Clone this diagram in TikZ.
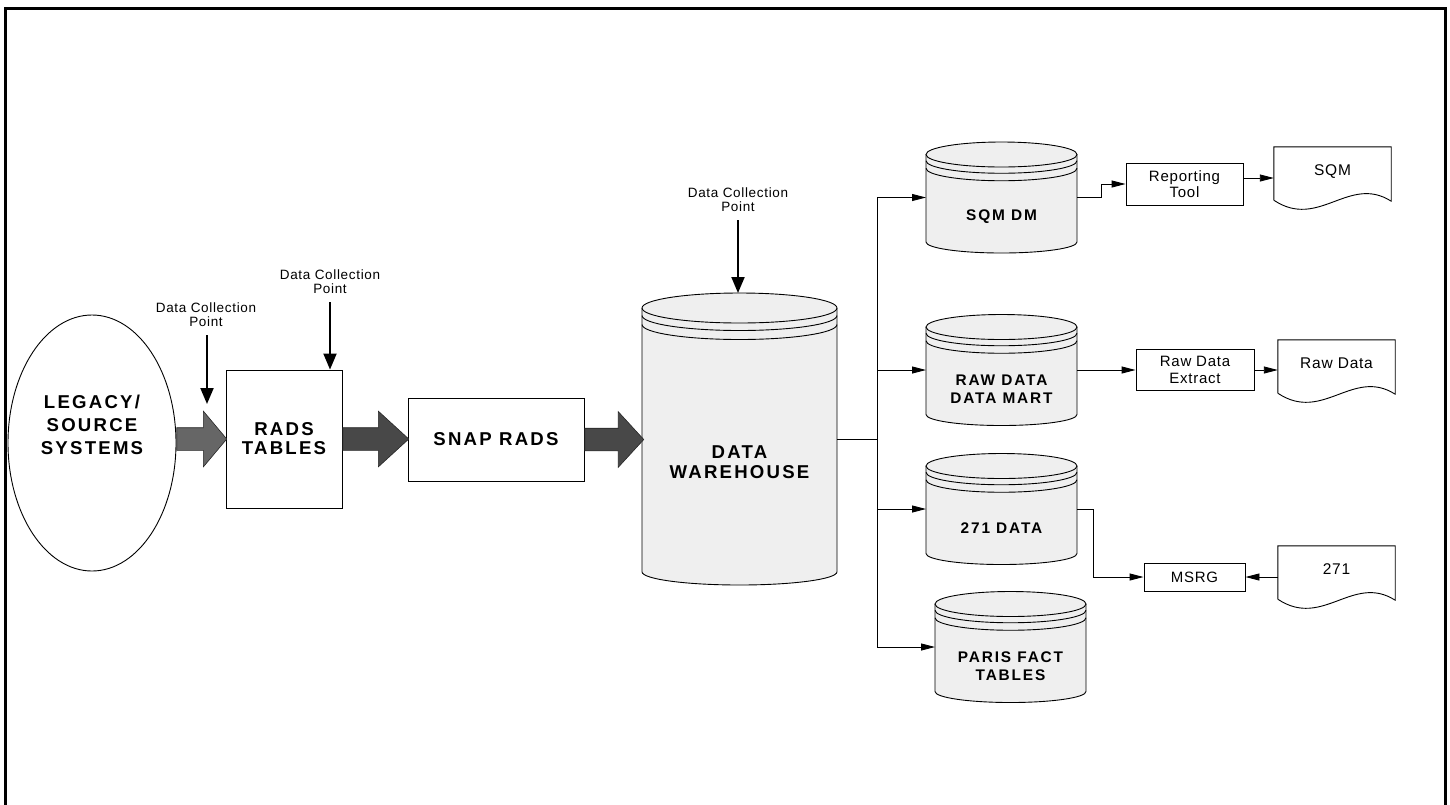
\documentclass[tikz,border=0pt]{standalone}
\usepackage{fontspec}
\setmainfont{Liberation Sans}
\newfontfamily\widefont[LetterSpace=12]{Liberation Sans}
\newfontfamily\smallfont[LetterSpace=5]{Liberation Sans}
\usepackage{tikz}
\usetikzlibrary{calc,arrows.meta,positioning,shapes.geometric,shapes.arrows}
\definecolor{dbgray}{RGB}{239,239,239}
\definecolor{flowlight}{RGB}{102,102,102}
\definecolor{flowdark}{RGB}{72,72,72}
\tikzset{
  box/.style={draw,line width=0.9pt,inner sep=0pt,align=center},
  bigarrow/.style={single arrow,draw=black!85,line width=0.6pt,minimum width=55pt,
    text height=11pt,text depth=11pt,
    single arrow head extend=16.5pt,inner sep=0pt,fill=flowdark},
  conn/.style={line width=0.9pt},
  flow/.style={conn,-{Triangle[length=14pt,width=7pt]}},
  dcparrow/.style={line width=2pt,-{Triangle[length=16pt,width=13pt]}},
  dcp/.style={align=center,inner sep=8pt,font=\smallfont\fontsize{13.5}{14}\selectfont},
  drumbox/.style={inner sep=0pt,outer sep=0pt},
  biglbl/.style={align=center,font=\widefont\bfseries\fontsize{18.6}{20}\selectfont},
  dblbl/.style={align=center,font=\widefont\bfseries\fontsize{15.4}{18}\selectfont},
  boxtxt/.style={font=\smallfont\fontsize{15}{16.5}\selectfont},
  docnode/.style={inner sep=0pt,minimum width=117pt,minimum height=53pt,
    text height=11pt,text depth=8pt,font=\smallfont\fontsize{15.5}{17}\selectfont}
}
% database drum round a node: #1 node, #2 half width, #3 top radius, #4 label style, #5 label
\newcommand{\drum}[5]{%
  \path[fill=dbgray] ($(#1.north west)+(0,#3)$) -- ($(#1.south west)+(0,-0.88*#3)$)
    arc[start angle=180,end angle=0,x radius=#2,y radius=0.88*#3]
    -- ($(#1.north east)+(0,#3)$)
    arc[start angle=0,end angle=-180,x radius=#2,y radius=#3] -- cycle;
  \draw[conn] ($(#1.north west)+(0,#3)$) -- ($(#1.south west)+(0,-0.88*#3)$)
    arc[start angle=180,end angle=0,x radius=#2,y radius=0.88*#3]
    -- ($(#1.north east)+(0,#3)$);
  \draw[conn] ($(#1.north)+(0,#3)$) ellipse[x radius=#2,y radius=#3];
  \draw[conn] ($(#1.north west)+(0,{1.5*#3})$) arc[start angle=180,end angle=0,x radius=#2,y radius=#3];
  \draw[conn] ($(#1.north west)+(0,{2.1*#3})$) arc[start angle=180,end angle=0,x radius=#2,y radius=#3];
  \node[#4] (#1txt) at ($($(#1.north)+(0,{3.1*#3})$)!0.5!(#1.south)$) {#5};
}
% paper sheet with a wavy foot round a node
\newcommand{\docshape}[1]{%
  \draw[conn] (#1.south west) -- (#1.north west) -- (#1.north east) -- ($(#1.south east)+(0,1)$)
    .. controls ($(#1.south west)+(75,-26)$) and ($(#1.south west)+(45,30)$) .. (#1.south west);
}

\begin{document}
\begin{tikzpicture}[x=1pt,y=-1pt]
  \useasboundingbox (0,0) rectangle (1450,804);
  % frame
  \draw[line width=3pt] (5.5,812) rectangle (1445.5,8);

  % sources and staging
  \node[draw,ellipse,line width=0.9pt,inner sep=0pt,minimum width=168pt,minimum height=256pt] (legacy) at (92,443) {};
  \node[biglbl,font=\widefont\bfseries\fontsize{18.6}{23}\selectfont] (legacytxt) at ($(legacy.center)+(0,-18)$) {LEGACY/\\SOURCE\\SYSTEMS};
  \node[box,biglbl,font=\widefont\bfseries\fontsize{18.6}{19}\selectfont,minimum width=116pt,minimum height=138pt] (rads) at (284,439) {RADS\\TABLES};
  \node[box,biglbl,minimum width=176pt,minimum height=83pt] (snaprads) at (496,439.5) {SNAP RADS};
  \node[drumbox,minimum width=195pt,minimum height=292pt] (dw) at (739.5,439) {};
  \drum{dw}{97.5}{15}{biglbl}{DATA\\WAREHOUSE}

  % block arrows
  \node[bigarrow,fill=flowlight,minimum height=50pt,single arrow tip angle=100,anchor=tail] (arrA) at (legacy.east |- rads.west) {};
  \node[bigarrow,minimum height=66pt,single arrow tip angle=85,anchor=tail] (arrB) at (rads.east) {};
  \node[bigarrow,minimum height=59pt,single arrow tip angle=95,anchor=tail] (arrC) at (snaprads.east) {};

  % data collection points
  \node[dcp] (dcp1) at (206,315) {Data Collection\\Point};
  \coordinate (dcp1end) at (207,404);
  \draw[dcparrow] (dcp1end |- dcp1.south) -- (dcp1end);
  \node[dcp] (dcp2) at (330,282) {Data Collection\\Point};
  \draw[dcparrow] (dcp2.south) -- (dcp2.south |- rads.north);
  \node[dcp] (dcp3) at (738,200) {Data Collection\\Point};
  \draw[dcparrow] (dcp3.south) -- (dcp3.south |- dw.north);

  % data marts
  \node[drumbox,minimum width=151pt,minimum height=111pt] (sqmdm) at (1001.5,197.5) {};
  \drum{sqmdm}{75.5}{12.5}{dblbl}{SQM DM}
  \node[drumbox,minimum width=151pt,minimum height=111pt] (rawdm) at (1001.5,370) {};
  \drum{rawdm}{75.5}{12.5}{dblbl}{RAW DATA\\DATA MART}
  \node[drumbox,minimum width=151pt,minimum height=111pt] (d271) at (1001.5,509) {};
  \drum{d271}{75.5}{12.5}{dblbl}{271 DATA}
  \node[drumbox,minimum width=151pt,minimum height=111pt] (paris) at (1010.5,647) {};
  \drum{paris}{75.5}{12.5}{dblbl}{PARIS FACT\\TABLES}

  % tools and outputs
  \node[box,boxtxt,minimum width=117pt,minimum height=42pt] (report) at (1184.5,184) {Reporting\\Tool};
  \node[box,boxtxt,minimum width=118pt,minimum height=41pt] (rawext) at (1195,370) {Raw Data\\Extract};
  \node[box,boxtxt,minimum width=101pt,minimum height=28pt] (msrg) at (1194.5,577) {MSRG};
  \node[docnode] (sqmdoc) at (1332.5,173.5) {SQM};
  \docshape{sqmdoc}
  \node[docnode] (rawdoc) at (1336.5,366.5) {Raw Data};
  \docshape{rawdoc}
  \node[docnode] (doc271) at (1336.5,572.5) {271};
  \docshape{doc271}

  % connectors
  \coordinate (bus) at ($(dw.east)+(40,0)$);
  \draw[conn] (dw.east) -- (bus);
  \draw[flow] (bus) |- (sqmdm.west);
  \draw[flow] (bus) |- (rawdm.west);
  \draw[flow] (bus) |- (d271.west);
  \draw[flow] (bus) |- (paris.west);
  \draw[flow] (sqmdm.east) -- ++(24,0) |- (report.west);
  \draw[flow] (report.east) -- ++(0,-6) coordinate (rtout) -- (rtout -| sqmdoc.west);
  \draw[flow] (rawdm.east) -- (rawext.west);
  \draw[flow] (rawext.east) -- (rawext.east -| rawdoc.west);
  \draw[flow] (d271.east) -- ++(16,0) |- (msrg.west);
  \draw[flow] (doc271.west |- msrg.east) -- (msrg.east);
\end{tikzpicture}
\end{document}
